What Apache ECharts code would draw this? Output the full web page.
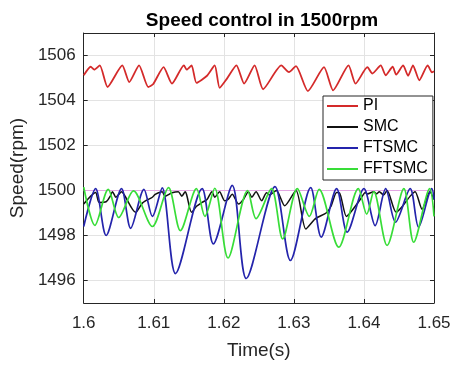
<!DOCTYPE html>
<html>
<head>
<meta charset="utf-8">
<script src="https://cdn.jsdelivr.net/npm/echarts@6/dist/echarts.min.js"></script>
<style>html,body{margin:0;padding:0;background:#fff}#c{width:454px;height:365px}</style>
</head>
<body>
<div id="c"></div>
<script>
var xTicks = [1.6, 1.61, 1.62, 1.63, 1.64, 1.65];
var xTickLabels = ['1.6', '1.61', '1.62', '1.63', '1.64', '1.65'];
var yTicks = [1496, 1498, 1500, 1502, 1504, 1506];
var yTickLabels = ['1496', '1498', '1500', '1502', '1504', '1506'];
var seriesNames = ['PI', 'SMC', 'FTSMC', 'FFTSMC'];

var refTime = [1.6, 1.65];
var refSpeed = [1500, 1500];

var piTime = [1.6000,1.6010,1.6015,1.6023,1.6034,1.6055,1.6065,1.6079,1.6092,1.6099,1.6114,1.6126,1.6143,1.6147,1.6154,1.6161,1.6176,1.6187,1.6194,1.6204,1.6218,1.6229,1.6244,1.6256,1.6282,1.6293,1.6303,1.6320,1.6343,1.6356,1.6378,1.6388,1.6405,1.6412,1.6424,1.6431,1.6441,1.6446,1.6456,1.6463,1.6470,1.6479,1.6491,1.6497,1.6500];
var piSpeed = [1505.12,1505.50,1505.37,1505.56,1504.60,1505.56,1504.82,1505.56,1504.60,1504.72,1505.48,1504.75,1505.56,1505.37,1505.56,1504.78,1505.10,1505.56,1504.56,1504.95,1505.56,1504.75,1505.56,1504.50,1505.56,1505.26,1505.53,1504.42,1505.48,1504.45,1505.56,1504.75,1505.48,1505.20,1505.56,1505.12,1505.50,1505.15,1505.56,1505.10,1505.56,1504.90,1505.56,1505.25,1505.30];

var smcTime = [1.6000,1.6010,1.6017,1.6022,1.6032,1.6038,1.6041,1.6046,1.6054,1.6058,1.6074,1.6084,1.6098,1.6102,1.6112,1.6116,1.6126,1.6135,1.6140,1.6145,1.6147,1.6154,1.6161,1.6169,1.6176,1.6183,1.6187,1.6194,1.6201,1.6206,1.6212,1.6221,1.6228,1.6235,1.6240,1.6246,1.6254,1.6261,1.6265,1.6275,1.6287,1.6303,1.6317,1.6329,1.6334,1.6346,1.6353,1.6361,1.6365,1.6375,1.6381,1.6395,1.6402,1.6405,1.6414,1.6418,1.6422,1.6428,1.6433,1.6446,1.6455,1.6466,1.6473,1.6483,1.6494,1.6500];
var smcSpeed = [1499.40,1499.75,1499.91,1499.47,1499.50,1499.75,1499.95,1499.70,1499.95,1499.80,1499.03,1499.45,1499.70,1499.83,1499.95,1499.75,1499.90,1499.95,1499.75,1499.95,1499.80,1499.03,1499.30,1499.47,1499.60,1499.95,1499.70,1499.95,1499.55,1499.60,1499.83,1499.40,1499.60,1499.95,1499.70,1499.95,1499.55,1499.90,1499.80,1500.00,1499.32,1500.00,1498.29,1498.70,1498.81,1499.00,1499.30,1499.91,1499.90,1498.85,1499.03,1499.61,1499.91,1499.85,1499.95,1499.85,1499.95,1499.80,1500.00,1499.03,1499.30,1499.75,1499.95,1499.17,1499.95,1499.60];

var ftsmcTime = [1.6000,1.6017,1.6032,1.6054,1.6067,1.6086,1.6098,1.6112,1.6131,1.6169,1.6185,1.6212,1.6232,1.6273,1.6295,1.6324,1.6339,1.6361,1.6376,1.6400,1.6416,1.6431,1.6445,1.6466,1.6478,1.6497,1.6500];
var ftsmcSpeed = [1498.40,1500.08,1498.00,1500.08,1498.32,1500.05,1498.85,1500.12,1496.31,1500.08,1497.63,1500.23,1496.09,1500.17,1496.89,1500.13,1497.93,1500.08,1498.15,1500.08,1498.44,1500.08,1498.59,1500.08,1498.37,1500.08,1499.60];

var fftsmcTime = [1.6000,1.6016,1.6035,1.6050,1.6071,1.6098,1.6121,1.6138,1.6161,1.6173,1.6187,1.6206,1.6234,1.6246,1.6268,1.6284,1.6305,1.6322,1.6336,1.6364,1.6392,1.6404,1.6414,1.6433,1.6457,1.6471,1.6494,1.6500];
var fftsmcSpeed = [1500.15,1498.45,1500.05,1498.80,1499.98,1498.40,1500.13,1498.22,1500.08,1498.85,1500.10,1497.00,1500.00,1498.75,1500.08,1497.85,1500.08,1498.85,1500.05,1497.48,1500.08,1498.95,1499.95,1497.56,1500.08,1497.70,1500.08,1498.85];

function zip(t, v) { return t.map(function (x, i) { return [x, v[i]]; }); }

var FONT = '"Liberation Sans", Arial, sans-serif';
var AX = '#262626';

var chart = echarts.init(document.getElementById('c'), null, { renderer: 'canvas' });

function lineSeries(name, t, v, color, width, smooth) {
  return {
    name: name, type: 'line', data: zip(t, v), symbol: 'none', showSymbol: false,
    smooth: smooth, animation: false,
    lineStyle: { color: color, width: width }, itemStyle: { color: color }
  };
}

chart.setOption({
  animation: false,
  backgroundColor: '#fff',
  title: {
    text: 'Speed control in 1500rpm', left: 257, top: 6, textAlign: 'center',
    textStyle: { fontFamily: FONT, fontSize: 19, fontWeight: 'bold', color: '#000' }
  },
  grid: { left: 81, right: 20, top: 33, bottom: 61, containLabel: false },
  legend: {
    orient: 'vertical', left: 323, top: 96,
    data: seriesNames,
    icon: 'rect',
    backgroundColor: '#fff', borderColor: AX, borderWidth: 1,
    padding: [2, 5, 3, 4],
    itemWidth: 31, itemHeight: 2, itemGap: 5,
    textStyle: { fontFamily: FONT, fontSize: 16, color: '#000', lineHeight: 16 }
  },
  xAxis: [{
    type: 'value', min: 1.6, max: 1.65,
    name: 'Time(s)', nameLocation: 'middle', nameGap: 38,
    nameTextStyle: { fontFamily: FONT, fontSize: 19, color: AX },
    axisLine: { show: true, onZero: false, lineStyle: { color: AX, width: 1 } },
    axisTick: { show: true, inside: true, length: 4, customValues: xTicks, lineStyle: { color: AX } },
    axisLabel: {
      customValues: xTicks, margin: 12, fontFamily: FONT, fontSize: 17, color: AX,
      formatter: function (v) { var i = xTicks.findIndex(function (x) { return Math.abs(x - v) < 1e-6; }); return i >= 0 ? xTickLabels[i] : ''; }
    },
    splitLine: { show: true, lineStyle: { color: '#e3e3e3', width: 1 } }
  }, {
    type: 'value', min: 1.6, max: 1.65, position: 'top',
    axisLine: { show: true, onZero: false, lineStyle: { color: AX, width: 1 } },
    axisTick: { show: true, inside: true, length: 4, customValues: xTicks, lineStyle: { color: AX } },
    axisLabel: { show: false }, splitLine: { show: false }
  }],
  yAxis: [{
    type: 'value', min: 1495, max: 1507,
    name: 'Speed(rpm)', nameLocation: 'middle', nameGap: 45,
    nameTextStyle: { fontFamily: FONT, fontSize: 19, color: AX },
    axisLine: { show: true, onZero: false, lineStyle: { color: AX, width: 1 } },
    axisTick: { show: true, inside: true, length: 4, customValues: yTicks, lineStyle: { color: AX } },
    axisLabel: {
      customValues: yTicks, margin: 8, fontFamily: FONT, fontSize: 17, color: AX,
      formatter: function (v) { var i = yTicks.indexOf(Math.round(v)); return i >= 0 ? yTickLabels[i] : ''; }
    },
    splitLine: { show: true, lineStyle: { color: '#e3e3e3', width: 1 } }
  }, {
    type: 'value', min: 1495, max: 1507, position: 'right',
    axisLine: { show: true, onZero: false, lineStyle: { color: AX, width: 1 } },
    axisTick: { show: true, inside: true, length: 4, customValues: yTicks, lineStyle: { color: AX } },
    axisLabel: { show: false }, splitLine: { show: false }
  }],
  series: [
    { name: 'ref', type: 'line', data: zip(refTime, refSpeed), symbol: 'none', silent: true,
      lineStyle: { color: '#e2a6e2', width: 1 } },
    lineSeries('PI', piTime, piSpeed, '#d42a2a', 1.8, 0.2),
    lineSeries('SMC', smcTime, smcSpeed, '#111111', 1.5, 0.25),
    lineSeries('FTSMC', ftsmcTime, ftsmcSpeed, '#2424ac', 1.7, 0.3),
    lineSeries('FFTSMC', fftsmcTime, fftsmcSpeed, '#38dd38', 1.7, 0.3)
  ]
});
</script>
</body>
</html>
